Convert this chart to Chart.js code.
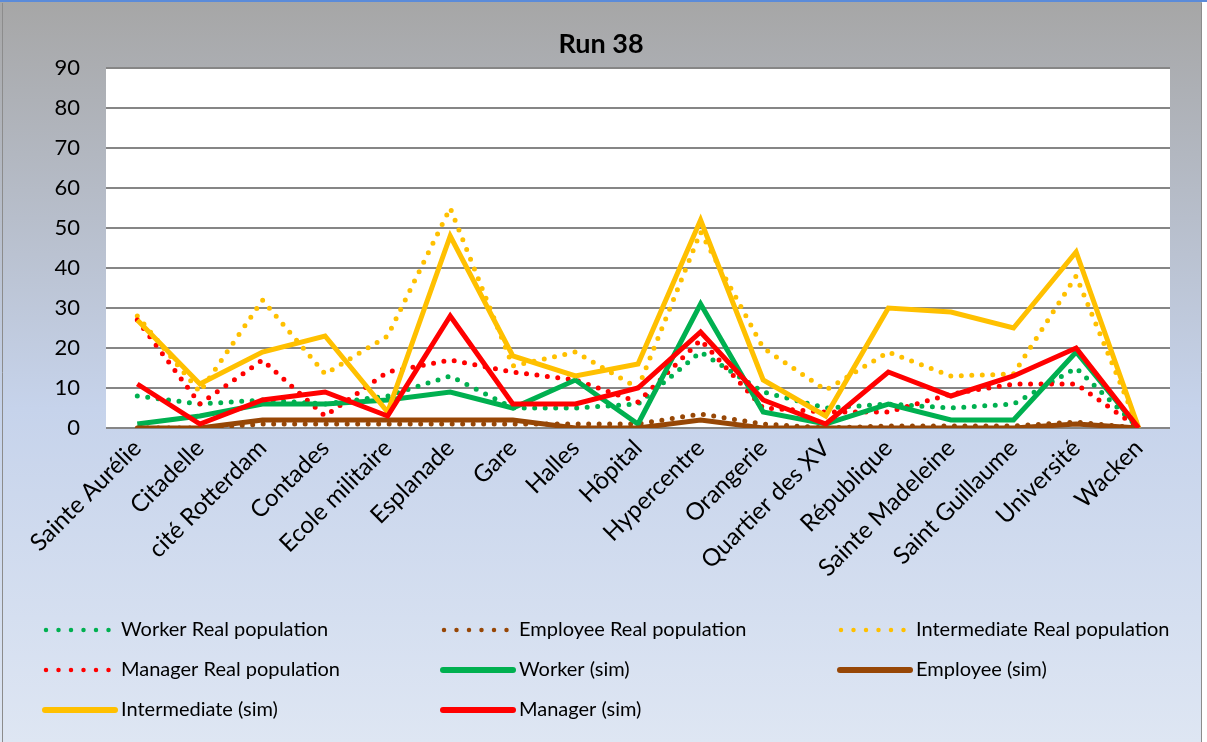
<!DOCTYPE html>
<html>
<head>
<meta charset="utf-8">
<script src="https://cdn.jsdelivr.net/npm/chart.js@4"></script>
<style>
  html, body { margin: 0; padding: 0; background: #ffffff; }
  #wrap { width: 1207px; height: 742px; position: relative; }
</style>
</head>
<body>
<div id="wrap"><canvas id="runChart" width="1207" height="742"></canvas></div>
<script>
// Chart data
const chartTitle = 'Run 38';
const categories = ['Sainte Aurélie', 'Citadelle', 'cité Rotterdam', 'Contades', 'Ecole militaire', 'Esplanade', 'Gare', 'Halles', 'Hôpital', 'Hypercentre', 'Orangerie', 'Quartier des XV', 'République', 'Sainte Madeleine', 'Saint Guillaume', 'Université', 'Wacken'];
const yTicks = [0, 10, 20, 30, 40, 50, 60, 70, 80, 90];

const workerReal       = [8, 6, 7, 6, 8, 13, 5, 5, 6, 19, 9, 5, 6, 5, 6, 15, 0];
const employeeReal     = [0, 0, 1, 1, 1, 1, 1, 1, 1, 3.5, 1, 0, 0.5, 0.5, 0.5, 1.5, 0];
const intermediateReal = [28, 9, 32, 13.5, 23, 55, 15.5, 19, 10, 49, 20, 9.5, 19, 13, 13.5, 38, 0];
const managerReal      = [27, 6, 17, 3, 14, 17, 14, 12, 6.5, 22, 5, 4, 4, 8.5, 11, 11, 0];
const workerSim        = [1, 3, 6, 6, 7, 9, 5, 12, 1, 31, 4, 1, 6, 2, 2, 19, 0];
const employeeSim      = [0, 0, 2, 2, 2, 2, 2, 0, 0, 2, 0, 0, 0, 0, 0, 1, 0];
const intermediateSim  = [27, 11, 19, 23, 4, 48, 18, 13, 16, 52, 12, 3, 30, 29, 25, 44, 0];
const managerSim       = [11, 1, 7, 9, 3, 28, 6, 6, 10, 24, 7, 1, 14, 8, 13, 20, 0];

const GREEN = '#00B050';
const BROWN = '#974706';
const YELLOW = '#FFC000';
const RED = '#FF0000';
const FONT = 'Lato, "Open Sans", sans-serif';

function dotted(label, data, color) {
  return { label, data, borderColor: color, backgroundColor: color, borderWidth: 5,
    borderDash: [0, 10.5], borderCapStyle: 'round', pointRadius: 0, tension: 0, dotted: true };
}
function solid(label, data, color) {
  return { label, data, borderColor: color, backgroundColor: color, borderWidth: 5,
    borderCapStyle: 'butt', borderJoinStyle: 'miter', pointRadius: 0, tension: 0, dotted: false };
}

const datasets = [
  dotted('Worker Real population', workerReal, GREEN),
  dotted('Employee Real population', employeeReal, BROWN),
  dotted('Intermediate Real population', intermediateReal, YELLOW),
  dotted('Manager Real population', managerReal, RED),
  solid('Worker (sim)', workerSim, GREEN),
  solid('Employee (sim)', employeeSim, BROWN),
  solid('Intermediate (sim)', intermediateSim, YELLOW),
  solid('Manager (sim)', managerSim, RED)
];
// later series sit on top, like the original
datasets.forEach((ds, i) => { ds.order = datasets.length - i; });

// Background gradient, white plot area, frame, title
const backdrop = {
  id: 'backdrop',
  beforeDraw(chart) {
    const { ctx, width, height, chartArea } = chart;
    ctx.save();
    const g = ctx.createLinearGradient(0, 0, 0, height);
    g.addColorStop(0, '#A6A6A6');
    g.addColorStop(0.55, '#C6D3EB');
    g.addColorStop(1, '#DEE6F3');
    ctx.fillStyle = g;
    ctx.fillRect(0, 0, width, height);
    ctx.fillStyle = '#ffffff';
    ctx.fillRect(chartArea.left, chartArea.top, chartArea.right - chartArea.left, chartArea.bottom - chartArea.top);
    ctx.restore();
  },
  afterDraw(chart) {
    const { ctx, width, height } = chart;
    ctx.save();
    ctx.fillStyle = '#ffffff';
    ctx.fillRect(1202, 0, width - 1202, height);
    ctx.strokeStyle = '#8C8C8C';
    ctx.lineWidth = 1;
    ctx.beginPath();
    ctx.moveTo(2.5, 3); ctx.lineTo(2.5, height);
    ctx.moveTo(1201.5, 3); ctx.lineTo(1201.5, height);
    ctx.stroke();
    ctx.fillStyle = '#5B8BD9';
    ctx.fillRect(0, 0, width, 2);
    // title, centred on the whole frame
    ctx.fillStyle = '#000000';
    ctx.font = 'bold 27px ' + FONT;
    ctx.textAlign = 'center';
    ctx.textBaseline = 'middle';
    ctx.fillText(chartTitle, 601, 44);
    ctx.restore();
  }
};

// Legend in three columns under the chart
const gridLegend = {
  id: 'gridLegend',
  afterDraw(chart) {
    const { ctx } = chart;
    const colX = [42, 440, 837];
    const rowY = [630, 670, 710];
    ctx.save();
    chart.data.datasets.forEach((ds, i) => {
      const x = colX[i % 3];
      const y = rowY[Math.floor(i / 3)];
      ctx.strokeStyle = ds.borderColor;
      ctx.beginPath();
      if (ds.dotted) {
        ctx.lineWidth = 4.5;
        ctx.lineCap = 'round';
        ctx.setLineDash([0, 12.5]);
        ctx.moveTo(x + 4, y);
        ctx.lineTo(x + 70, y);
      } else {
        ctx.lineWidth = 6;
        ctx.lineCap = 'round';
        ctx.setLineDash([]);
        ctx.moveTo(x + 3, y);
        ctx.lineTo(x + 73, y);
      }
      ctx.stroke();
      ctx.setLineDash([]);
      ctx.fillStyle = '#000000';
      ctx.font = '20px ' + FONT;
      ctx.textBaseline = 'middle';
      ctx.textAlign = 'left';
      ctx.fillText(ds.label, x + 79, y);
    });
    ctx.restore();
  }
};

const chartCtx = document.getElementById('runChart').getContext('2d');
new Chart(chartCtx, {
  type: 'line',
  data: { labels: categories, datasets: datasets },
  options: {
    responsive: false,
    animation: false,
    events: [],
    layout: { padding: { left: 0, right: 37, top: 68, bottom: 142 } },
    plugins: {
      legend: { display: false },
      tooltip: { enabled: false },
      title: { display: false }
    },
    scales: {
      x: {
        offset: true,
        grid: { display: false, drawTicks: false },
        border: { display: false },
        ticks: {
          color: '#000000',
          font: { family: FONT, size: 24 },
          minRotation: 45,
          maxRotation: 45,
          autoSkip: false,
          padding: 6
        },
        afterFit(scale) { scale.height = 172; }
      },
      y: {
        min: 0,
        max: 90,
        afterBuildTicks(scale) { scale.ticks = yTicks.map(v => ({ value: v })); },
        grid: { color: '#868686', lineWidth: 2, drawTicks: false },
        border: { display: false },
        ticks: {
          color: '#000000',
          font: { family: FONT, size: 22 },
          padding: 26
        },
        afterFit(scale) { scale.width = 106; }
      }
    }
  },
  plugins: [backdrop, gridLegend]
});
</script>
</body>
</html>
